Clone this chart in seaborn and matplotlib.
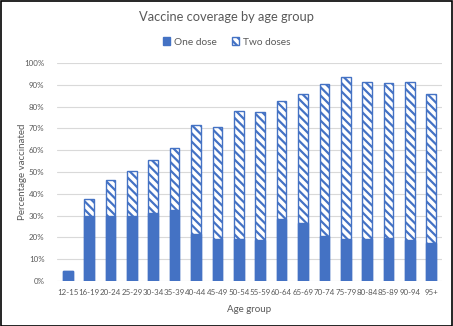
import matplotlib
matplotlib.use("Agg")
import matplotlib.pyplot as plt
import seaborn as sns
import pandas as pd
from matplotlib.patches import Patch, Rectangle
from matplotlib.ticker import PercentFormatter

age_groups = ["12-15", "16-19", "20-24", "25-29", "30-34", "35-39", "40-44", "45-49",
              "50-54", "55-59", "60-64", "65-69", "70-74", "75-79", "80-84", "85-89",
              "90-94", "95+"]
one_dose = [4.6, 29.6, 29.6, 29.6, 31.2, 32.7, 21.6, 19.3, 19.3, 18.6, 28.6, 26.4,
            20.7, 19.3, 19.3, 19.6, 18.7, 17.6]
two_doses = [0.0, 8.2, 16.9, 21.0, 24.5, 28.4, 50.1, 51.5, 58.9, 59.1, 54.0, 59.2,
             69.6, 74.1, 72.2, 71.2, 72.4, 68.4]

BLUE = "#4472C4"
GREY = "#595959"

sns.set_theme(style="white")
plt.rcParams["font.family"] = ["Lato", "DejaVu Sans"]
plt.rcParams["hatch.linewidth"] = 1.6

df = pd.DataFrame({"age": age_groups,
                   "one": [v / 100 for v in one_dose],
                   "total": [(a + b) / 100 for a, b in zip(one_dose, two_doses)]})

fig = plt.figure(figsize=(4.53, 3.26), dpi=100)
ax = fig.add_axes([57 / 453, 1 - 281 / 326, (442 - 57) / 453, (281 - 63) / 326])

sns.barplot(data=df, x="age", y="total", ax=ax, color="white", edgecolor=BLUE,
            linewidth=1.0, hatch="\\\\\\\\", width=0.45, saturation=1)
sns.barplot(data=df, x="age", y="one", ax=ax, color=BLUE, edgecolor=BLUE,
            linewidth=1.0, width=0.45, saturation=1)

ax.set_ylim(0, 1.0)
ax.set_yticks([i / 10 for i in range(11)])
ax.yaxis.set_major_formatter(PercentFormatter(1.0, decimals=0))
ax.grid(axis="y", color="#D9D9D9", linewidth=0.8)
ax.set_axisbelow(True)
for s in ax.spines.values():
    s.set_visible(False)
ax.tick_params(axis="both", length=0, colors=GREY, labelsize=5.7)
ax.tick_params(axis="y", pad=9)
ax.tick_params(axis="x", pad=6)
ax.set_xlabel("Age group", color=GREY, fontsize=7, labelpad=6)
ax.set_ylabel("Percentage vaccinated", color=GREY, fontsize=7)
ax.yaxis.set_label_coords((27 - 57) / 385, 0.5)
ax.set_xlim(-0.5, len(age_groups) - 0.5)

fig.text(0.5, 1 - 17 / 326, "Vaccine coverage by age group", ha="center", va="center",
         color=GREY, fontsize=9.3)

handles = [Patch(facecolor=BLUE, edgecolor=BLUE, label="One dose"),
           Patch(facecolor="white", edgecolor=BLUE, hatch="\\\\\\\\", label="Two doses")]
fig.legend(handles=handles, loc="center", bbox_to_anchor=(0.5, 1 - 42 / 326), ncol=2,
           frameon=False, fontsize=7.3, labelcolor=GREY, handlelength=0.7,
           handleheight=0.7, handletextpad=0.4, columnspacing=1.5)

fig.patches.append(Rectangle((0.5 / 453, 0.5 / 326), 1 - 1.5 / 453, 1 - 1.5 / 326,
                             transform=fig.transFigure, fill=False, edgecolor="black",
                             linewidth=1.2))

fig.savefig("out.png", dpi=100)
